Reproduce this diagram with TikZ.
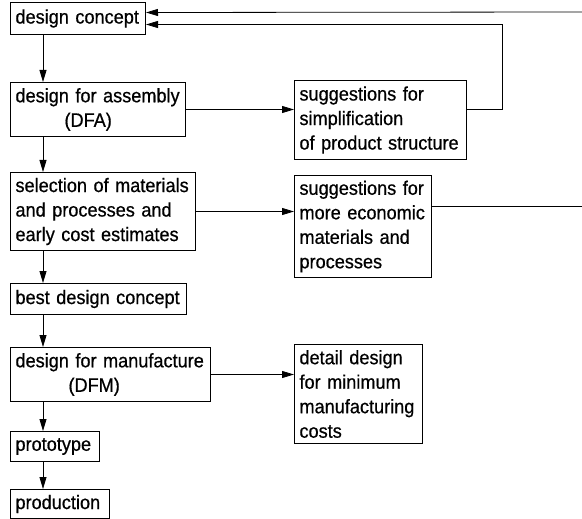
\documentclass[tikz,border=0pt]{standalone}
\usepackage{fontspec}
\setmainfont[FakeStretch=0.93, FakeBold=0.6]{Liberation Sans}
\usetikzlibrary{arrows.meta}

\tikzset{
  blk/.style={draw, line width=1pt, anchor=north west, align=left,
    inner xsep=5pt, inner ysep=0pt, font=\fontsize{19.5}{24.5}\selectfont},
  flow/.style={line width=0.8pt, -{Triangle[length=12pt,width=7pt]}},
  plain/.style={line width=0.8pt}
}

\begin{document}
\begin{tikzpicture}[x=1pt, y=-1pt]
\useasboundingbox (0,0) rectangle (582,519);
\node[blk, text width=125pt, minimum height=32pt] (concept) at (10,2) {design concept};
\node[blk, text width=165pt, minimum height=54pt] (dfa) at (10,82) {design for assembly\\\hspace*{49pt}(DFA)};
\node[blk, text width=162pt, minimum height=79pt] (simplify) at (294,80) {suggestions for\\simplification\\of product structure};
\node[blk, text width=175pt, minimum height=78pt] (select) at (10,172) {selection of materials\\and processes and\\early cost estimates};
\node[blk, text width=127pt, minimum height=102pt] (econ) at (294,175) {suggestions for\\more economic\\materials and\\processes};
\node[blk, text width=166pt, minimum height=31pt] (best) at (10,283) {best design concept};
\node[blk, text width=190pt, minimum height=54pt] (dfm) at (10,347) {design for manufacture\\\hspace*{53pt}(DFM)};
\node[blk, text width=118pt, minimum height=99pt] (detail) at (294,344) {detail design\\for minimum\\manufacturing\\costs};
\node[blk, text width=79pt, minimum height=30pt] (proto) at (10,431) {prototype};
\node[blk, text width=89pt, minimum height=29pt] (prod) at (10,489) {production};
% main flow
\draw[flow] ([xshift=33pt]concept.south west) -- ([xshift=33pt]dfa.north west);
\draw[flow] ([xshift=33pt]dfa.south west) -- ([xshift=33pt]select.north west);
\draw[flow] ([xshift=33pt]select.south west) -- ([xshift=33pt]best.north west);
\draw[flow] ([xshift=33pt]best.south west) -- ([xshift=33pt]dfm.north west);
\draw[flow] ([xshift=33pt]dfm.south west) -- ([xshift=33pt]proto.north west);
\draw[flow] ([xshift=33pt]proto.south west) -- ([xshift=33pt]prod.north west);
% side branches
\draw[flow] (dfa.east) -- (simplify.west |- dfa.east);
\draw[flow] (select.east) -- (econ.west |- select.east);
\draw[flow] (dfm.east) -- (detail.west |- dfm.east);
% feedback
\coordinate (fb) at (502,109);
\coordinate (econout) at (582,206);
\coordinate (topin) at (582,12);
\draw[flow] (simplify.east |- fb) -- (fb) |- ([yshift=-6pt]concept.east);
\draw[plain] (econ.east |- econout) -- (econout);
\draw[flow] (topin) -- ([yshift=6pt]concept.east);
\end{tikzpicture}
\end{document}
